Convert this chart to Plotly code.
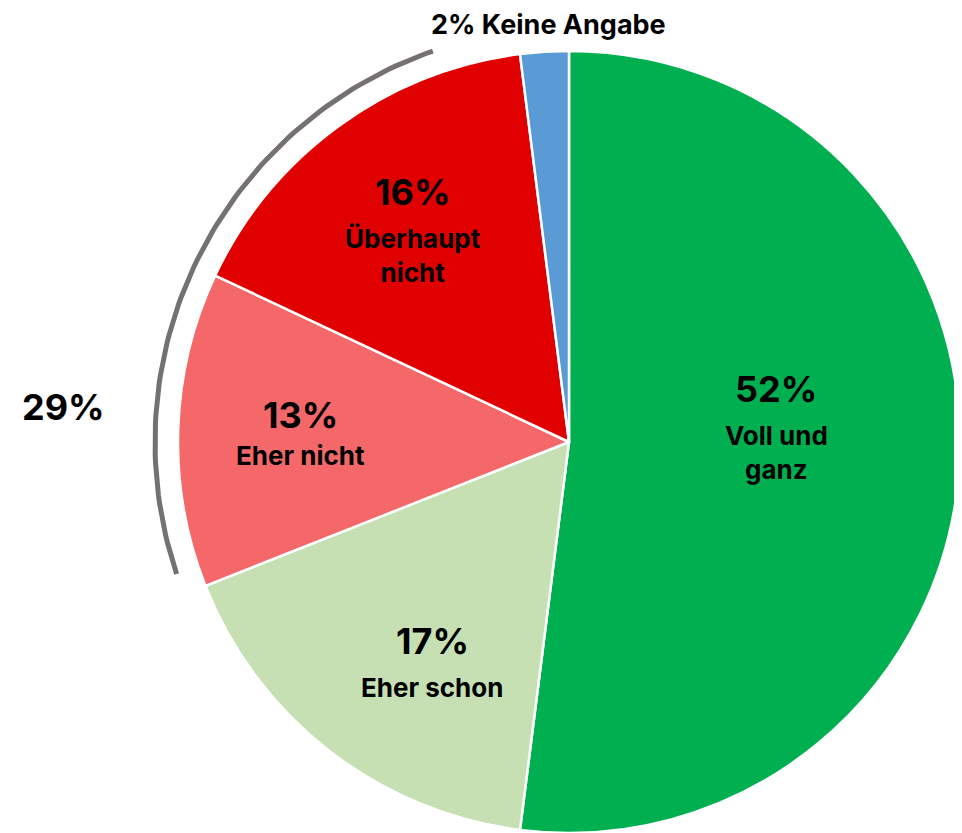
import math
import plotly.graph_objects as go

# ---- data ----
categories = ["Voll und ganz", "Eher schon", "Eher nicht", "Überhaupt nicht", "Keine Angabe"]
label_text = ["Voll und<br>ganz", "Eher schon", "Eher nicht", "Überhaupt<br>nicht", "Keine Angabe"]
values = [52, 17, 13, 16, 2]
colors = ["#00B050", "#C6E0B4", "#F4686A", "#E00000", "#5B9BD5"]
group_idx = [2, 3]  # slices summarised by the grey arc

# ---- layout geometry (pixels, page body has an 8px margin) ----
OFF = 8
W, H = 962 - OFF, 833 - OFF
CX, CY_TOP, R = 569 - OFF, 442 - OFF, 391
CY = H - CY_TOP
FONT = "Inter, Roboto, Arial, sans-serif"

# label placement style (angle offset deg, radial fraction, label gap px)
lab_dang = [-11.8, -6.2, -1.0, 1.5]
lab_rad = [0.535, 0.668, 0.686, 0.706]
lab_gap = [7, 7, 1, 7]

total = sum(values)
cum = []
acc = 0
for v in values:
    cum.append((acc, acc + v))
    acc += v


def pt(theta_deg, r):
    t = math.radians(theta_deg)
    return CX + r * math.sin(t), CY + r * math.cos(t)


fig = go.Figure()
fig.add_trace(go.Pie(
    labels=categories, values=values, sort=False, direction="clockwise", rotation=0,
    marker=dict(colors=colors, line=dict(color="white", width=2.5)),
    textinfo="none", hoverinfo="skip", showlegend=False,
    domain=dict(x=[(CX - R) / W, (CX + R) / W], y=[0, 2 * R / H]),
))

annotations = []
for i in range(4):
    a0, a1 = cum[i]
    mid = (a0 + a1) / 2 / total * 360 + lab_dang[i]
    x, y = pt(mid, lab_rad[i] * R)
    annotations.append(dict(x=x, y=y, xref="x", yref="y", text=f"<b>{values[i]}%</b>",
                            showarrow=False, yanchor="bottom", borderpad=0,
                            font=dict(family=FONT, size=36, color="black")))
    annotations.append(dict(x=x, y=y, yshift=-lab_gap[i], xref="x", yref="y",
                            text=f"<b>{label_text[i]}</b>",
                            showarrow=False, yanchor="top", borderpad=0,
                            font=dict(family=FONT, size=26, color="black")))

# small slice: outside label above the pie
a0, a1 = cum[4]
x, y = pt((a0 + a1) / 2 / total * 360, R)
annotations.append(dict(x=x + 4, y=y + 10, xref="x", yref="y",
                        text=f"<b>{values[4]}% {label_text[4]}</b>", showarrow=False,
                        yanchor="bottom", borderpad=0,
                        font=dict(family=FONT, size=27, color="black")))

# grey arc around the negative answers
g0 = cum[group_idx[0]][0] / total * 360 + 3
g1 = cum[group_idx[-1]][1] / total * 360 - 12
RA = 414
n = 80
ax, ay = [], []
for k in range(n + 1):
    th = g0 + (g1 - g0) * k / n
    px, py = pt(th, RA)
    ax.append(px)
    ay.append(py)
fig.add_trace(go.Scatter(x=ax, y=ay, mode="lines", line=dict(color="#767171", width=5),
                         hoverinfo="skip", showlegend=False))

gsum = sum(values[i] for i in group_idx)
x, y = pt(274, 507)
annotations.append(dict(x=x, y=y, xref="x", yref="y", text=f"<b>{gsum}%</b>",
                        showarrow=False, font=dict(family=FONT, size=36, color="black")))

fig.update_layout(
    width=W, height=H, margin=dict(l=0, r=0, t=0, b=0),
    paper_bgcolor="white", plot_bgcolor="rgba(0,0,0,0)",
    xaxis=dict(range=[0, W], visible=False, fixedrange=True, domain=[0, 1]),
    yaxis=dict(range=[0, H], visible=False, fixedrange=True, domain=[0, 1]),
    annotations=annotations,
)
fig.write_html("out.html")
